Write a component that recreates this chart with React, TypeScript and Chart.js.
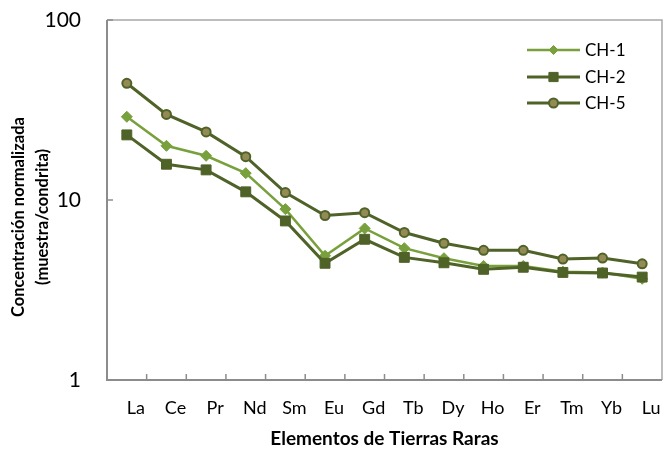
import React, { useEffect, useRef } from 'react';
import { Chart, registerables } from 'chart.js';
import { drawPoint } from 'chart.js/helpers';

Chart.register(...registerables);

const elements = ['La', 'Ce', 'Pr', 'Nd', 'Sm', 'Eu', 'Gd', 'Tb', 'Dy', 'Ho', 'Er', 'Tm', 'Yb', 'Lu'];
const ch1 = [29.0, 20.0, 17.6, 14.1, 8.9, 4.9, 6.95, 5.4, 4.75, 4.3, 4.3, 4.0, 3.95, 3.65];
const ch2 = [23.0, 15.8, 14.7, 11.1, 7.65, 4.45, 6.05, 4.8, 4.48, 4.12, 4.23, 3.96, 3.93, 3.73];
const ch5 = [44.5, 29.9, 23.9, 17.4, 11.0, 8.2, 8.5, 6.6, 5.75, 5.25, 5.25, 4.7, 4.76, 4.42];
const seriesNames = ['CH-1', 'CH-2', 'CH-5'];
const yTicks = [1, 10, 100];
const yTitle = ['Concentración normalizada', '(muestra/condrita)'];
const xTitle = 'Elementos de Tierras Raras';

const LIGHT = '#78A03C';
const DARK = '#4F6228';
const TAN = '#948A54';
const FONT = 'Lato, "Open Sans", sans-serif';

const framePlugin = {
  id: 'frame',
  afterDatasetsDraw(chart: any) {
    const { ctx, chartArea: ca, scales } = chart;
    ctx.save();
    ctx.strokeStyle = '#a8a8a8';
    ctx.lineWidth = 1.5;
    ctx.beginPath();
    ctx.moveTo(ca.left, ca.top);
    ctx.lineTo(ca.right, ca.top);
    ctx.lineTo(ca.right, ca.bottom);
    ctx.stroke();
    ctx.strokeStyle = '#8c8c8c';
    ctx.lineWidth = 2;
    ctx.beginPath();
    ctx.moveTo(ca.left, ca.top);
    ctx.lineTo(ca.left, ca.bottom);
    ctx.lineTo(ca.right, ca.bottom);
    ctx.stroke();
    const xs = scales.x;
    const n = elements.length;
    ctx.lineWidth = 1.5;
    for (let i = 1; i < n; i++) {
      const px = (xs.getPixelForValue(i - 1) + xs.getPixelForValue(i)) / 2;
      ctx.beginPath();
      ctx.moveTo(px, ca.bottom);
      ctx.lineTo(px, ca.bottom - 6);
      ctx.stroke();
    }
    const ys = scales.y;
    yTicks.forEach((v) => {
      const py = ys.getPixelForValue(v);
      ctx.beginPath();
      ctx.moveTo(ca.left, py);
      ctx.lineTo(ca.left + 6, py);
      ctx.stroke();
    });
    ctx.restore();
  },
  afterDraw(chart: any) {
    const { ctx, chartArea: ca } = chart;
    ctx.save();
    ctx.fillStyle = '#000';
    ctx.font = `bold 16.5px ${FONT}`;
    ctx.textAlign = 'center';
    ctx.textBaseline = 'middle';
    const cy = (ca.top + ca.bottom) / 2 + 17;
    const xs = [19, 43];
    yTitle.forEach((t, i) => {
      ctx.save();
      ctx.translate(xs[i], cy);
      ctx.rotate(-Math.PI / 2);
      ctx.fillText(t, 0, 0);
      ctx.restore();
    });
    ctx.restore();

    ctx.save();
    const x0 = ca.right - 135;
    const x1 = ca.right - 82;
    const ys = [50, 77, 103];
    chart.data.datasets.forEach((ds: any, i: number) => {
      const y = ys[i];
      ctx.strokeStyle = ds.borderColor;
      ctx.lineWidth = ds.borderWidth;
      ctx.beginPath();
      ctx.moveTo(x0, y);
      ctx.lineTo(x1, y);
      ctx.stroke();
      ctx.fillStyle = ds.pointBackgroundColor;
      ctx.strokeStyle = ds.pointBorderColor;
      ctx.lineWidth = ds.pointBorderWidth;
      drawPoint(ctx, { pointStyle: ds.pointStyle, radius: ds.legendRadius, rotation: 0, borderWidth: ds.pointBorderWidth }, (x0 + x1) / 2, y);
      ctx.fillStyle = '#000';
      ctx.font = `17px ${FONT}`;
      ctx.textAlign = 'left';
      ctx.textBaseline = 'middle';
      ctx.fillText(ds.label, x1 + 5, y + 1);
    });
    ctx.restore();
  },
};

export default function App() {
  const ref = useRef<HTMLCanvasElement>(null);
  useEffect(() => {
    if (!ref.current) return;
    const chart = new Chart(ref.current, {
      type: 'line',
      data: {
        labels: elements,
        datasets: [
          {
            label: seriesNames[0],
            data: ch1,
            borderColor: LIGHT,
            borderWidth: 2.5,
            pointStyle: 'rectRot',
            pointRadius: 5.5,
            pointBackgroundColor: LIGHT,
            pointBorderColor: LIGHT,
            pointBorderWidth: 1,
            legendRadius: 4.5,
            order: 3,
          } as any,
          {
            label: seriesNames[1],
            data: ch2,
            borderColor: DARK,
            borderWidth: 3,
            pointStyle: 'rect',
            pointRadius: 7,
            pointBackgroundColor: DARK,
            pointBorderColor: DARK,
            pointBorderWidth: 1,
            legendRadius: 6.5,
            order: 2,
          } as any,
          {
            label: seriesNames[2],
            data: ch5,
            borderColor: DARK,
            borderWidth: 3,
            pointStyle: 'circle',
            pointRadius: 4.5,
            pointBackgroundColor: TAN,
            pointBorderColor: DARK,
            pointBorderWidth: 2,
            legendRadius: 4.5,
            order: 1,
          } as any,
        ],
      },
      options: {
        responsive: false,
        animation: false,
        layout: { padding: { top: 20, right: 8, left: 0, bottom: 0 } },
        plugins: { legend: { display: false }, tooltip: { enabled: false } },
        scales: {
          x: {
            type: 'category',
            offset: true,
            grid: { display: false, drawTicks: false },
            border: { display: false },
            ticks: {
              font: { family: FONT, size: 18 },
              color: '#000',
              padding: 17,
              labelOffset: 9,
              maxRotation: 0,
              autoSkip: false,
            },
            title: {
              display: true,
              text: xTitle,
              font: { family: FONT, size: 19, weight: 'bold' },
              color: '#000',
              padding: { top: 0, bottom: 0 },
            },
            afterFit: (s: any) => {
              s.height = 70;
              s.paddingLeft = 0;
              s.paddingRight = 0;
            },
          },
          y: {
            type: 'logarithmic',
            min: 1,
            max: 100,
            afterBuildTicks: (s: any) => {
              s.ticks = yTicks.map((v) => ({ value: v }));
            },
            grid: { display: false, drawTicks: false },
            border: { display: false },
            ticks: {
              font: { family: FONT, size: 21 },
              color: '#000',
              padding: 26,
              callback: (v: any) => String(v),
            },
            afterFit: (s: any) => {
              s.width = 107;
              s.paddingTop = 0;
              s.paddingBottom = 0;
            },
          },
        },
      } as any,
      plugins: [framePlugin],
    });
    return () => chart.destroy();
  }, []);
  return (
    <div style={{ position: 'fixed', left: 0, top: 0, width: 670, height: 450, background: '#fff' }}>
      <canvas ref={ref} width={670} height={450} />
    </div>
  );
}
